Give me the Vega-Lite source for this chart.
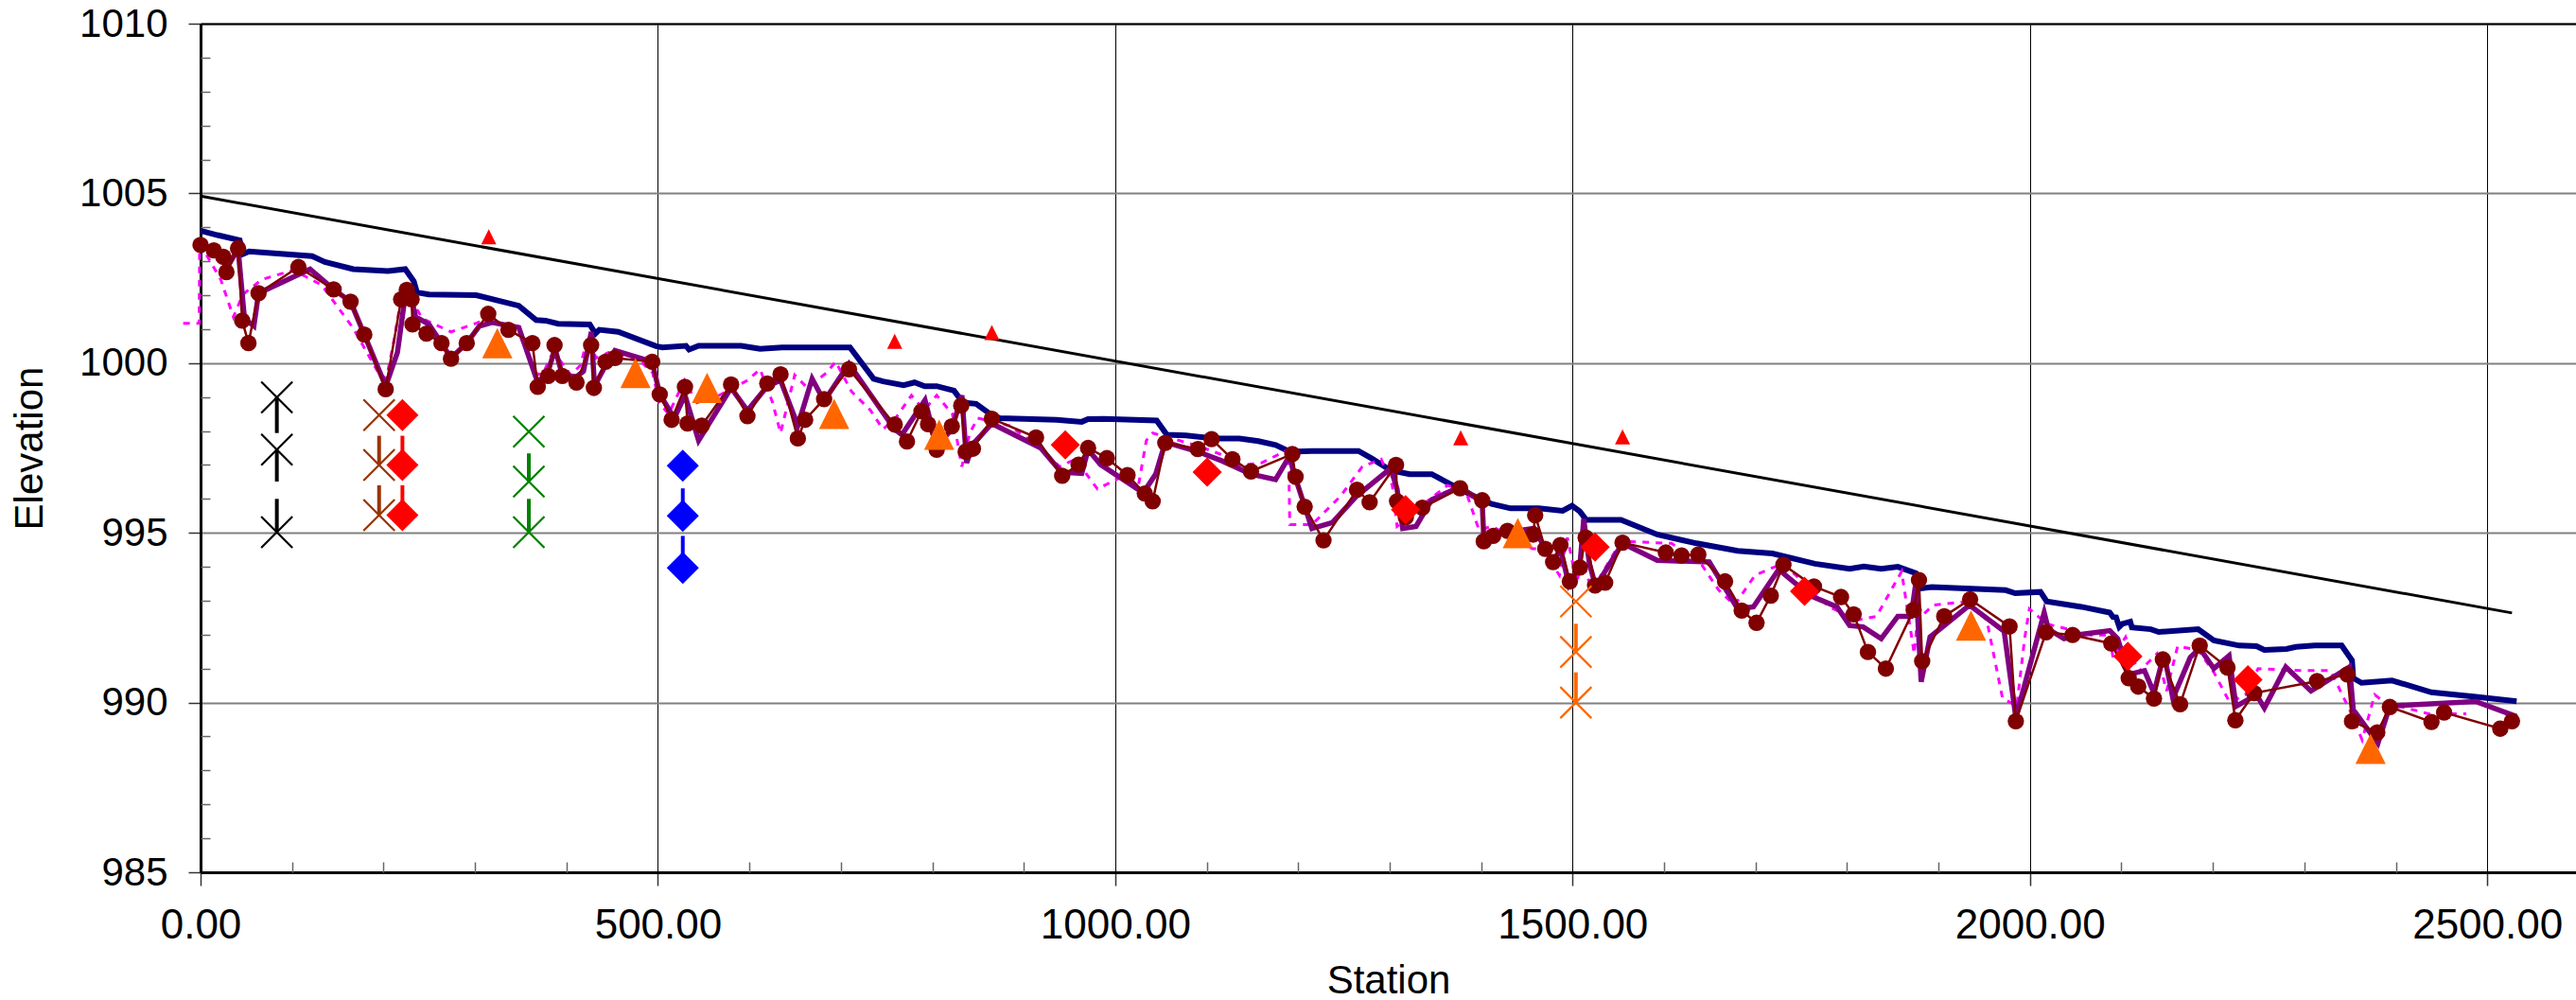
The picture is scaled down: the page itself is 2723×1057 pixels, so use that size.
{
  "$schema": "https://vega.github.io/schema/vega-lite/v6.json",
  "width": 2511,
  "height": 897,
  "autosize": {"type": "none"},
  "padding": {"left": 212, "top": 25, "right": 0, "bottom": 135},
  "background": "#ffffff",
  "config": {"view": {"stroke": null}, "font": "Liberation Sans", "axis": {"labelFont": "Liberation Sans", "titleFont": "Liberation Sans", "labelColor": "#000000", "titleColor": "#000000"}},
  "resolve": {"axis": {"x": "independent", "y": "independent"}},
  "datasets": {
    "slope": [{"s": 0, "v": 1004.92}, {"s": 2527, "v": 992.64}],
    "navy": [
      {"s":0,"v":1003.9},{"s":18.6,"v":1003.77},{"s":42.8,"v":1003.62},{"s":46.2,"v":1003.21},{"s":53.1,"v":1003.29},{"s":122,"v":1003.15},{"s":135.9,"v":1002.98},{"s":166.9,"v":1002.77},{"s":204.8,"v":1002.71},{"s":223.8,"v":1002.77},{"s":233.1,"v":1002.41},{"s":236.6,"v":1002.08},{"s":249.7,"v":1002.02},{"s":301.4,"v":1002.0},{"s":347.9,"v":1001.69},{"s":366.9,"v":1001.27},{"s":377.2,"v":1001.25},{"s":391,"v":1001.16},{"s":425.5,"v":1001.14},{"s":431.7,"v":1000.87},{"s":435.9,"v":1000.98},{"s":456.6,"v":1000.92},{"s":497.9,"v":1000.5},{"s":504.8,"v":1000.46},{"s":530.7,"v":1000.51},{"s":534.1,"v":1000.4},{"s":544.5,"v":1000.51},{"s":591,"v":1000.51},{"s":611.7,"v":1000.42},{"s":635.8,"v":1000.46},{"s":710,"v":1000.46},{"s":735.8,"v":999.54},{"s":746.2,"v":999.46},{"s":768.6,"v":999.35},{"s":780.6,"v":999.43},{"s":791.7,"v":999.32},{"s":804.8,"v":999.32},{"s":823.7,"v":999.19},{"s":830.6,"v":998.94},{"s":835.8,"v":998.83},{"s":847.9,"v":998.8},{"s":863.4,"v":998.5},{"s":873.7,"v":998.38},{"s":935.8,"v":998.33},{"s":963.4,"v":998.27},{"s":970.3,"v":998.35},{"s":987.5,"v":998.36},{"s":1045.3,"v":998.31},{"s":1056.4,"v":997.89},{"s":1077.1,"v":997.87},{"s":1108.1,"v":997.78},{"s":1135.7,"v":997.78},{"s":1156.4,"v":997.7},{"s":1175.3,"v":997.59},{"s":1190.9,"v":997.39},{"s":1215,"v":997.41},{"s":1266,"v":997.41},{"s":1280.5,"v":997.19},{"s":1301.2,"v":996.84},{"s":1321.9,"v":996.73},{"s":1346,"v":996.73},{"s":1366.7,"v":996.43},{"s":1394.3,"v":996.05},{"s":1411.5,"v":995.85},{"s":1432.2,"v":995.72},{"s":1463.2,"v":995.72},{"s":1489.1,"v":995.65},{"s":1499.4,"v":995.8},{"s":1508,"v":995.63},{"s":1514.9,"v":995.38},{"s":1552.9,"v":995.38},{"s":1592.5,"v":994.95},{"s":1635.6,"v":994.69},{"s":1680.5,"v":994.47},{"s":1718.4,"v":994.39},{"s":1764.9,"v":994.09},{"s":1802.9,"v":993.94},{"s":1818.4,"v":994.01},{"s":1837.4,"v":993.94},{"s":1855.6,"v":994.0},{"s":1875.3,"v":993.81},{"s":1882.2,"v":993.37},{"s":1892.5,"v":993.4},{"s":1973.5,"v":993.31},{"s":1983.9,"v":993.22},{"s":2011.5,"v":993.26},{"s":2018.4,"v":992.98},{"s":2056.3,"v":992.82},{"s":2087.3,"v":992.65},{"s":2090.8,"v":992.52},{"s":2094.2,"v":992.51},{"s":2097.7,"v":992.23},{"s":2101.1,"v":992.32},{"s":2109.7,"v":992.38},{"s":2111.5,"v":992.21},{"s":2132.2,"v":992.16},{"s":2140.8,"v":992.08},{"s":2183.9,"v":992.16},{"s":2201.1,"v":991.83},{"s":2228.7,"v":991.68},{"s":2247.7,"v":991.66},{"s":2256.3,"v":991.55},{"s":2280.4,"v":991.58},{"s":2290.8,"v":991.64},{"s":2311.5,"v":991.68},{"s":2340.8,"v":991.68},{"s":2352.1,"v":991.24},{"s":2353.5,"v":990.72},{"s":2362.5,"v":990.58},{"s":2395.9,"v":990.65},{"s":2439,"v":990.3},{"s":2487.3,"v":990.17},{"s":2532.1,"v":990.04}
    ],
    "magenta": [
      {"s":-19,"v":1001.17},{"s":-1.5,"v":1001.17},{"s":-1,"v":1003.46},{"s":0.7,"v":1003.46},{"s":22.1,"v":1002.46},{"s":35.9,"v":1001.36},{"s":46.2,"v":1002.02},{"s":66.9,"v":1002.46},{"s":101.4,"v":1002.74},{"s":132.4,"v":1002.3},{"s":166.9,"v":1001.03},{"s":194.5,"v":999.71},{"s":203.1,"v":999.54},{"s":211.7,"v":1000.7},{"s":218.6,"v":1001.8},{"s":229,"v":1001.91},{"s":242.7,"v":1001.31},{"s":273.8,"v":1000.92},{"s":297.9,"v":1001.14},{"s":315.1,"v":1001.31},{"s":332.4,"v":1001.09},{"s":349.6,"v":1000.81},{"s":365.1,"v":999.71},{"s":373.7,"v":999.65},{"s":384.1,"v":1000.26},{"s":392.7,"v":1000.09},{"s":404.8,"v":999.65},{"s":415.1,"v":999.93},{"s":423.7,"v":1000.76},{"s":432.4,"v":1000.15},{"s":446.1,"v":1000.31},{"s":477.2,"v":1000.15},{"s":494.4,"v":999.71},{"s":501.3,"v":998.83},{"s":511.7,"v":998.5},{"s":520.3,"v":998.99},{"s":528.9,"v":999.49},{"s":542.7,"v":998.83},{"s":566.9,"v":999.05},{"s":597.9,"v":999.49},{"s":611.7,"v":999.82},{"s":625.5,"v":998.83},{"s":634.1,"v":997.94},{"s":649.6,"v":999.65},{"s":663.4,"v":999.27},{"s":684.1,"v":999.71},{"s":694.4,"v":1000.04},{"s":711.7,"v":999.16},{"s":732.4,"v":998.61},{"s":746.1,"v":998.05},{"s":760,"v":998.38},{"s":777.2,"v":999.05},{"s":791,"v":998.61},{"s":804.8,"v":999.05},{"s":822,"v":998.5},{"s":832.3,"v":996.95},{"s":841,"v":997.94},{"s":849.6,"v":998.38},{"s":884.1,"v":998.16},{"s":918.5,"v":997.5},{"s":939.2,"v":996.95},{"s":956.5,"v":997.17},{"s":980.6,"v":996.29},{"s":1004.7,"v":996.62},{"s":1025.4,"v":996.4},{"s":1034,"v":997.72},{"s":1040.9,"v":997.94},{"s":1090.9,"v":997.56},{"s":1118.4,"v":997.28},{"s":1125.3,"v":996.95},{"s":1159.8,"v":997.06},{"s":1189.5,"v":997.45},{"s":1190.8,"v":995.24},{"s":1215,"v":995.24},{"s":1246,"v":996.07},{"s":1270.1,"v":996.95},{"s":1290.8,"v":997.17},{"s":1302.9,"v":996.4},{"s":1308.1,"v":995.19},{"s":1342.5,"v":995.96},{"s":1363.2,"v":996.4},{"s":1383.9,"v":996.18},{"s":1397.7,"v":995.08},{"s":1411.5,"v":995.19},{"s":1432.2,"v":994.91},{"s":1456.3,"v":994.53},{"s":1466.7,"v":994.53},{"s":1485.6,"v":993.75},{"s":1494.3,"v":994.86},{"s":1504.6,"v":993.53},{"s":1509.8,"v":994.2},{"s":1518.4,"v":993.53},{"s":1528.7,"v":993.64},{"s":1552.9,"v":994.75},{"s":1608.1,"v":994.69},{"s":1639.1,"v":994.14},{"s":1659.8,"v":993.31},{"s":1677,"v":992.87},{"s":1699.4,"v":993.75},{"s":1718.4,"v":993.97},{"s":1730.5,"v":994.09},{"s":1752.9,"v":993.53},{"s":1780.4,"v":992.82},{"s":1811.5,"v":992.43},{"s":1832.2,"v":992.54},{"s":1859.7,"v":993.86},{"s":1873.5,"v":991.44},{"s":1877,"v":992.43},{"s":1894.2,"v":992.87},{"s":1932.1,"v":992.98},{"s":1952.8,"v":992.43},{"s":1970.1,"v":990.12},{"s":1985.6,"v":989.9},{"s":1994.2,"v":991.88},{"s":1999.4,"v":992.76},{"s":2018.3,"v":992.32},{"s":2066.6,"v":991.99},{"s":2087.3,"v":991.99},{"s":2090.8,"v":991.33},{"s":2104.6,"v":991.93},{"s":2118.4,"v":990.89},{"s":2139,"v":991.44},{"s":2149.4,"v":990.34},{"s":2161.5,"v":991.66},{"s":2183.9,"v":991.55},{"s":2201.1,"v":990.89},{"s":2218.3,"v":990.01},{"s":2235.6,"v":990.23},{"s":2249.4,"v":991.0},{"s":2297.6,"v":990.94},{"s":2328.7,"v":990.94},{"s":2349.4,"v":989.79},{"s":2363.2,"v":988.9},{"s":2377,"v":990.23},{"s":2387.3,"v":990.01},{"s":2435.6,"v":989.67},{"s":2477,"v":989.67}
    ],
    "purple": [
      {"s":0,"v":1003.48},{"s":14.5,"v":1003.32},{"s":24.8,"v":1003.02},{"s":28.3,"v":1002.77},{"s":41,"v":1003.38},{"s":48,"v":1001.31},{"s":58.3,"v":1001.09},{"s":63.4,"v":1002.06},{"s":119.7,"v":1002.77},{"s":145.5,"v":1002.17},{"s":164,"v":1001.81},{"s":179,"v":1000.84},{"s":202.4,"v":999.32},{"s":215.2,"v":1000.31},{"s":223.8,"v":1002.0},{"s":230.7,"v":1001.88},{"s":235.2,"v":1001.36},{"s":249.7,"v":1001.14},{"s":263.4,"v":1000.59},{"s":273.8,"v":1000.15},{"s":291,"v":1000.59},{"s":304.8,"v":1001.09},{"s":318.6,"v":1001.2},{"s":347.9,"v":1001.05},{"s":368.6,"v":999.43},{"s":380,"v":999.76},{"s":387.6,"v":1000.42},{"s":395.5,"v":999.65},{"s":411,"v":999.6},{"s":418.6,"v":999.76},{"s":427.2,"v":1000.92},{"s":430.7,"v":999.32},{"s":442.8,"v":999.93},{"s":453,"v":1000.37},{"s":493.8,"v":1000.04},{"s":502,"v":999.08},{"s":517.9,"v":998.38},{"s":529.6,"v":999.05},{"s":544.5,"v":997.72},{"s":580,"v":999.27},{"s":597.9,"v":998.6},{"s":619.6,"v":999.32},{"s":634.1,"v":999.49},{"s":653,"v":998.16},{"s":668.6,"v":999.54},{"s":681.7,"v":998.88},{"s":708.9,"v":999.98},{"s":758.9,"v":998.05},{"s":766.8,"v":997.89},{"s":792,"v":998.91},{"s":804.8,"v":997.56},{"s":821.3,"v":998.05},{"s":832.4,"v":999.05},{"s":837.5,"v":997.06},{"s":844.4,"v":997.61},{"s":865.1,"v":998.22},{"s":918.5,"v":997.5},{"s":941,"v":996.79},{"s":963.4,"v":996.75},{"s":970.3,"v":997.45},{"s":984,"v":997.01},{"s":1030.6,"v":996.18},{"s":1044.3,"v":996.73},{"s":1054.7,"v":997.67},{"s":1090.2,"v":997.39},{"s":1116.7,"v":997.12},{"s":1148.4,"v":996.73},{"s":1175.3,"v":996.57},{"s":1190.9,"v":997.28},{"s":1194.3,"v":996.84},{"s":1215,"v":995.13},{"s":1237.4,"v":995.3},{"s":1263.3,"v":996.07},{"s":1301.2,"v":996.9},{"s":1308.1,"v":996.29},{"s":1314.3,"v":995.13},{"s":1328.8,"v":995.19},{"s":1346,"v":995.98},{"s":1377,"v":996.35},{"s":1401.2,"v":995.9},{"s":1402.9,"v":994.86},{"s":1428.8,"v":995.02},{"s":1458,"v":995.13},{"s":1470.1,"v":994.53},{"s":1478.7,"v":994.14},{"s":1486.7,"v":994.53},{"s":1496,"v":993.48},{"s":1508,"v":994.03},{"s":1512.2,"v":995.41},{"s":1518.4,"v":994.09},{"s":1525.3,"v":993.42},{"s":1554.6,"v":994.69},{"s":1592.5,"v":994.19},{"s":1649.4,"v":994.14},{"s":1680.5,"v":992.76},{"s":1697.7,"v":992.82},{"s":1725.3,"v":993.92},{"s":1759.8,"v":993.15},{"s":1789.1,"v":992.82},{"s":1802.9,"v":992.27},{"s":1817.7,"v":992.23},{"s":1837.4,"v":991.88},{"s":1855.6,"v":992.54},{"s":1870.1,"v":992.54},{"s":1875.3,"v":993.53},{"s":1881.1,"v":990.61},{"s":1890.8,"v":991.93},{"s":1933.9,"v":992.87},{"s":1971.8,"v":992.1},{"s":1984.6,"v":989.56},{"s":2015.6,"v":992.65},{"s":2020.1,"v":992.16},{"s":2037.3,"v":991.88},{"s":2056.3,"v":992.01},{"s":2087.3,"v":992.12},{"s":2096,"v":991.88},{"s":2108,"v":990.83},{"s":2125.3,"v":990.94},{"s":2135.6,"v":990.28},{"s":2146.6,"v":991.44},{"s":2156.3,"v":990.12},{"s":2175.3,"v":991.33},{"s":2185.6,"v":991.6},{"s":2201.1,"v":991.0},{"s":2217.7,"v":991.38},{"s":2225.3,"v":989.89},{"s":2247.7,"v":990.23},{"s":2256.3,"v":989.84},{"s":2279.7,"v":991.05},{"s":2307.3,"v":990.34},{"s":2349.4,"v":991.05},{"s":2353.5,"v":989.79},{"s":2380.4,"v":988.8},{"s":2393.5,"v":989.9},{"s":2487.3,"v":990.03},{"s":2532.1,"v":989.59}
    ],
    "survey": [
      {"s":0,"v":1003.48},{"s":14.5,"v":1003.32},{"s":24.8,"v":1003.13},{"s":28.3,"v":1002.68},{"s":41,"v":1003.38},{"s":45.5,"v":1001.25},{"s":52.4,"v":1000.59},{"s":63.4,"v":1002.06},{"s":107,"v":1002.83},{"s":145.5,"v":1002.17},{"s":164,"v":1001.81},{"s":179,"v":1000.84},{"s":202.4,"v":999.23},{"s":219.3,"v":1001.88},{"s":225.5,"v":1002.16},{"s":230.7,"v":1001.88},{"s":231.7,"v":1001.14},{"s":247,"v":1000.87},{"s":263.4,"v":1000.59},{"s":273.8,"v":1000.13},{"s":291,"v":1000.59},{"s":314.5,"v":1001.45},{"s":336.6,"v":1000.98},{"s":362.8,"v":1000.59},{"s":368.6,"v":999.3},{"s":380,"v":999.62},{"s":387,"v":1000.53},{"s":395.5,"v":999.62},{"s":411,"v":999.43},{"s":427,"v":1000.53},{"s":430,"v":999.27},{"s":442.8,"v":1000.04},{"s":453,"v":1000.15},{"s":493.8,"v":1000.04},{"s":502,"v":999.08},{"s":515,"v":998.33},{"s":529.6,"v":999.3},{"s":532.4,"v":998.22},{"s":547.9,"v":998.16},{"s":580,"v":999.37},{"s":597.9,"v":998.44},{"s":619.6,"v":999.4},{"s":634.1,"v":999.67},{"s":653,"v":997.78},{"s":661,"v":998.33},{"s":681.7,"v":998.94},{"s":708.9,"v":999.82},{"s":758.9,"v":998.19},{"s":772.3,"v":997.69},{"s":788.2,"v":998.58},{"s":795.4,"v":998.2},{"s":804.8,"v":997.45},{"s":821.3,"v":998.14},{"s":831.6,"v":998.75},{"s":836.5,"v":997.39},{"s":844.4,"v":997.48},{"s":865.1,"v":998.36},{"s":913.4,"v":997.81},{"s":942,"v":996.68},{"s":959.9,"v":997.01},{"s":970.3,"v":997.5},{"s":990.9,"v":997.2},{"s":1013.4,"v":996.7},{"s":1032.3,"v":996.16},{"s":1040.9,"v":995.93},{"s":1054.7,"v":997.65},{"s":1090.2,"v":997.47},{"s":1105.3,"v":997.76},{"s":1128.1,"v":997.17},{"s":1148.4,"v":996.81},{"s":1193.6,"v":997.32},{"s":1197.1,"v":996.65},{"s":1207.1,"v":995.77},{"s":1227.7,"v":994.78},{"s":1264.3,"v":996.27},{"s":1278.1,"v":995.9},{"s":1307,"v":997.0},{"s":1308.1,"v":995.93},{"s":1317.7,"v":995.46},{"s":1335.7,"v":995.74},{"s":1377,"v":996.31},{"s":1401.2,"v":995.96},{"s":1402.9,"v":994.75},{"s":1413.2,"v":994.91},{"s":1428.8,"v":995.06},{"s":1457,"v":994.95},{"s":1459.1,"v":995.52},{"s":1470.1,"v":994.53},{"s":1478.7,"v":994.14},{"s":1486.7,"v":994.64},{"s":1497,"v":993.57},{"s":1508,"v":993.98},{"s":1514.3,"v":994.86},{"s":1524.6,"v":993.45},{"s":1535.6,"v":993.53},{"s":1554.6,"v":994.71},{"s":1601.9,"v":994.42},{"s":1619.1,"v":994.33},{"s":1637.4,"v":994.36},{"s":1666.7,"v":993.57},{"s":1684.9,"v":992.71},{"s":1701.1,"v":992.35},{"s":1716.7,"v":993.15},{"s":1730.5,"v":994.06},{"s":1763.9,"v":993.42},{"s":1793.5,"v":993.11},{"s":1807.3,"v":992.6},{"s":1822.9,"v":991.49},{"s":1842.5,"v":991.0},{"s":1872.9,"v":992.73},{"s":1878.7,"v":993.61},{"s":1882.2,"v":991.22},{"s":1906.3,"v":992.54},{"s":1934.6,"v":993.04},{"s":1977.7,"v":992.24},{"s":1984.6,"v":989.45},{"s":2017.6,"v":992.07},{"s":2046.6,"v":991.99},{"s":2089,"v":991.74},{"s":2108,"v":990.72},{"s":2118.4,"v":990.47},{"s":2135.6,"v":990.12},{"s":2145.3,"v":991.27},{"s":2164.2,"v":989.95},{"s":2185.6,"v":991.68},{"s":2216,"v":991.03},{"s":2224.6,"v":989.48},{"s":2245.2,"v":990.28},{"s":2313.9,"v":990.63},{"s":2347,"v":990.83},{"s":2352.1,"v":989.45},{"s":2379.7,"v":989.12},{"s":2393.5,"v":989.87},{"s":2439,"v":989.43},{"s":2452.8,"v":989.71},{"s":2514.2,"v":989.23},{"s":2527,"v":989.45}
    ],
    "smalltri": [{"s":315.1,"v":1003.72},{"s":758.9,"v":1000.64},{"s":865.1,"v":1000.9},{"s":1377.7,"v":997.8},{"s":1554.6,"v":997.83}],
    "orangetri": [{"s":324.4,"v":1000.59},{"s":475.5,"v":999.71},{"s":553.8,"v":999.27},{"s":692.7,"v":998.5},{"s":807.5,"v":997.89},{"s":1440.1,"v":994.99},{"s":1935.6,"v":992.27},{"s":2372.4,"v":988.64}],
    "diam": [{"s":945.4,"v":997.59},{"s":1100.5,"v":996.79},{"s":1317.4,"v":995.68},{"s":1524.6,"v":994.58},{"s":1753.6,"v":993.28},{"s":2107,"v":991.36},{"s":2238.3,"v":990.67}],
    "colx": [
      {"s":83.4,"v":998.99,"g":"A"},{"s":83.4,"v":997.45,"g":"A"},{"s":83.4,"v":995.02,"g":"A"},
      {"s":195.2,"v":998.47,"g":"B"},{"s":195.2,"v":997.0,"g":"B"},{"s":195.2,"v":995.52,"g":"B"},
      {"s":358.9,"v":997.98,"g":"D"},{"s":358.9,"v":996.51,"g":"D"},{"s":358.9,"v":995.02,"g":"D"},
      {"s":1503.6,"v":992.98,"g":"F"},{"s":1503.6,"v":991.49,"g":"F"},{"s":1503.6,"v":990.0,"g":"F"}
    ],
    "cold": [
      {"s":220.7,"v":998.47,"g":"C"},{"s":220.7,"v":997.0,"g":"C"},{"s":220.7,"v":995.52,"g":"C"},
      {"s":527.2,"v":996.98,"g":"E"},{"s":527.2,"v":995.5,"g":"E"},{"s":527.2,"v":993.97,"g":"E"}
    ],
    "colbars": [
      {"s":83.4,"v":998.99,"v2":997.94,"g":"A"},{"s":83.4,"v":997.45,"v2":996.51,"g":"A"},{"s":83.4,"v":996.0,"v2":995.02,"g":"A"},
      {"s":195.2,"v":997.86,"v2":997.0,"g":"B"},{"s":195.2,"v":996.4,"v2":995.52,"g":"B"},
      {"s":220.7,"v":997.86,"v2":997.0,"g":"C"},{"s":220.7,"v":996.4,"v2":995.52,"g":"C"},
      {"s":358.9,"v":997.34,"v2":996.51,"g":"D"},{"s":358.9,"v":996.0,"v2":995.02,"g":"D"},
      {"s":527.2,"v":996.31,"v2":995.5,"g":"E"},{"s":527.2,"v":994.91,"v2":993.97,"g":"E"},
      {"s":1503.6,"v":992.32,"v2":991.49,"g":"F"},{"s":1503.6,"v":990.89,"v2":990.0,"g":"F"}
    ]
  },
  "layer": [
    {
      "data": {"name": "slope"},
      "mark": {"type": "line", "color": "#000000", "strokeWidth": 3},
      "encoding": {
        "x": {"field": "s", "type": "quantitative", "scale": {"domain": [0, 2597], "nice": false, "zero": false},
          "axis": {"orient": "bottom", "values": [0, 500, 1000, 1500, 2000, 2500], "format": ".2f", "grid": true, "gridColor": "#000000", "gridWidth": 1, "gridOpacity": 1,
            "tickSize": 14, "tickColor": "#333333", "tickWidth": 1.5, "domain": true, "domainColor": "#000000", "domainWidth": 3,
            "labelFontSize": 44, "labelPadding": 20, "labelFlush": false, "labelOverlap": false,
            "title": "Station", "titleFontSize": 42, "titleFontWeight": "normal", "titlePadding": 16}},
        "y": {"field": "v", "type": "quantitative", "scale": {"domain": [985, 1010], "nice": false, "zero": false},
          "axis": {"orient": "left", "values": [985, 990, 995, 1000, 1005, 1010], "format": "d", "grid": true, "gridColor": "#808080", "gridWidth": 2, "gridOpacity": 1,
            "tickSize": 13, "tickColor": "#333333", "tickWidth": 1.5, "domain": true, "domainColor": "#000000", "domainWidth": 3,
            "labelFontSize": 42, "labelPadding": 22, "labelFlush": false, "labelOverlap": false,
            "title": "Elevation", "titleFontSize": 42, "titleFontWeight": "normal", "titlePadding": 30}}
      }
    },
    {
      "data": {"name": "navy"},
      "mark": {"type": "line", "color": "#000080", "strokeWidth": 6},
      "encoding": {
        "x": {"field": "s", "type": "quantitative",
          "axis": {"orient": "bottom", "values": [100,200,300,400,600,700,800,900,1100,1200,1300,1400,1600,1700,1800,1900,2100,2200,2300,2400], "labels": false, "grid": false, "domain": false, "tickSize": -11, "tickColor": "#666666", "tickWidth": 1.5, "title": null}},
        "y": {"field": "v", "type": "quantitative",
          "axis": {"orient": "left", "values": [986,987,988,989,991,992,993,994,996,997,998,999,1001,1002,1003,1004,1006,1007,1008,1009], "labels": false, "grid": false, "domain": false, "tickSize": -10, "tickColor": "#666666", "tickWidth": 1.5, "title": null}}
      }
    },
    {
      "data": {"name": "magenta"},
      "mark": {"type": "line", "color": "#FF00FF", "strokeWidth": 3, "strokeDash": [7, 7], "clip": false},
      "encoding": {
        "x": {"field": "s", "type": "quantitative",
          "axis": {"orient": "top", "labels": false, "ticks": false, "grid": false, "domain": true, "domainColor": "#000000", "domainWidth": 2, "title": null}},
        "y": {"field": "v", "type": "quantitative", "axis": null}
      }
    },
    {
      "data": {"name": "purple"},
      "mark": {"type": "line", "color": "#800080", "strokeWidth": 5.5},
      "encoding": {
        "x": {"field": "s", "type": "quantitative", "axis": null},
        "y": {"field": "v", "type": "quantitative", "axis": null}
      }
    },
    {
      "data": {"name": "survey"},
      "mark": {"type": "line", "color": "#800000", "strokeWidth": 2.5, "point": {"filled": true, "size": 300, "color": "#800000", "opacity": 1}},
      "encoding": {
        "x": {"field": "s", "type": "quantitative", "axis": null},
        "y": {"field": "v", "type": "quantitative", "axis": null}
      }
    },
    {
      "data": {"name": "smalltri"},
      "mark": {"type": "point", "shape": "M0,-1L1,1L-1,1Z", "filled": true, "size": 256, "color": "#FF0000", "opacity": 1},
      "encoding": {
        "x": {"field": "s", "type": "quantitative", "axis": null},
        "y": {"field": "v", "type": "quantitative", "axis": null}
      }
    },
    {
      "data": {"name": "orangetri"},
      "mark": {"type": "point", "shape": "M0,-1L1,1L-1,1Z", "filled": true, "size": 1024, "color": "#FF6600", "opacity": 1},
      "encoding": {
        "x": {"field": "s", "type": "quantitative", "axis": null},
        "y": {"field": "v", "type": "quantitative", "axis": null}
      }
    },
    {
      "data": {"name": "diam"},
      "mark": {"type": "point", "shape": "M0,-1L1,0L0,1L-1,0Z", "filled": true, "size": 961, "color": "#FF0000", "opacity": 1},
      "encoding": {
        "x": {"field": "s", "type": "quantitative", "axis": null},
        "y": {"field": "v", "type": "quantitative", "axis": null}
      }
    },
    {
      "data": {"name": "colbars"},
      "mark": {"type": "rule", "strokeWidth": 4},
      "encoding": {
        "x": {"field": "s", "type": "quantitative", "axis": null},
        "y": {"field": "v", "type": "quantitative", "axis": null},
        "y2": {"field": "v2"},
        "color": {"field": "g", "type": "nominal", "legend": null, "scale": {"domain": ["A","B","C","D","E","F"], "range": ["#000000","#993300","#FF0000","#008000","#0000FF","#FF6600"]}}
      }
    },
    {
      "data": {"name": "colx"},
      "mark": {"type": "point", "shape": "M-1,-1L1,1M-1,1L1,-1", "filled": false, "size": 1089, "strokeWidth": 2.2, "opacity": 1},
      "encoding": {
        "x": {"field": "s", "type": "quantitative", "axis": null},
        "y": {"field": "v", "type": "quantitative", "axis": null},
        "color": {"field": "g", "type": "nominal", "legend": null, "scale": {"domain": ["A","B","C","D","E","F"], "range": ["#000000","#993300","#FF0000","#008000","#0000FF","#FF6600"]}}
      }
    },
    {
      "data": {"name": "cold"},
      "mark": {"type": "point", "shape": "M0,-1L1,0L0,1L-1,0Z", "filled": true, "size": 1156, "opacity": 1},
      "encoding": {
        "x": {"field": "s", "type": "quantitative", "axis": null},
        "y": {"field": "v", "type": "quantitative", "axis": null},
        "color": {"field": "g", "type": "nominal", "legend": null, "scale": {"domain": ["A","B","C","D","E","F"], "range": ["#000000","#993300","#FF0000","#008000","#0000FF","#FF6600"]}}
      }
    }
  ]
}
